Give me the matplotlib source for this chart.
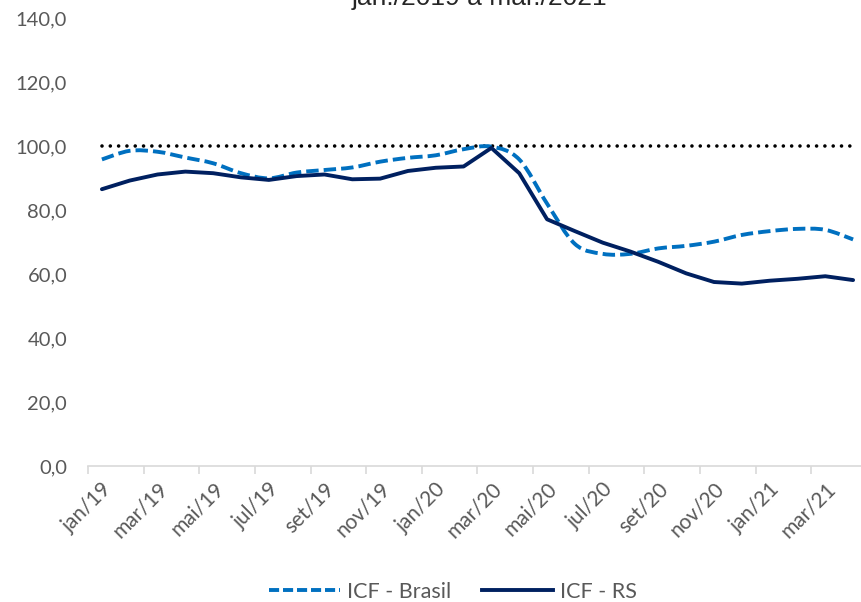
import matplotlib
matplotlib.use("Agg")
import matplotlib.pyplot as plt
from matplotlib.path import Path
from matplotlib.patches import PathPatch
from matplotlib.lines import Line2D
import numpy as np

# Monthly categories, jan/19 .. abr/21
months = ["jan/19", "fev/19", "mar/19", "abr/19", "mai/19", "jun/19", "jul/19",
          "ago/19", "set/19", "out/19", "nov/19", "dez/19", "jan/20", "fev/20",
          "mar/20", "abr/20", "mai/20", "jun/20", "jul/20", "ago/20", "set/20",
          "out/20", "nov/20", "dez/20", "jan/21", "fev/21", "mar/21", "abr/21"]

icf_brasil = [95.8, 98.5, 98.2, 96.4, 94.6, 91.5, 89.9, 91.7, 92.5, 93.3, 95.1,
              96.3, 97.1, 99.0, 99.8, 95.8, 82.0, 69.4, 66.3, 66.3, 68.0, 68.8,
              70.1, 72.2, 73.4, 74.1, 73.8, 70.8]

icf_rs = [86.5, 89.2, 91.1, 92.0, 91.5, 90.2, 89.4, 90.6, 91.1, 89.6, 89.8,
          92.2, 93.2, 93.6, 99.4, 91.5, 77.1, 73.4, 69.8, 67.0, 63.8, 60.2,
          57.5, 57.0, 57.9, 58.5, 59.3, 58.1]

reference = [100.0] * len(months)

y_ticks = [0, 20, 40, 60, 80, 100, 120, 140]
title_text = "jan./2019 a mar./2021"

COL_BR = "#0070C0"
COL_RS = "#002060"
GRAY = "#595959"
FONT = "Lato"


def smooth_path(xs, ys):
    """Bezier path through the points, using neighbour-based control points."""
    pts = np.column_stack([xs, ys]).astype(float)
    n = len(pts)
    verts = [pts[0]]
    codes = [Path.MOVETO]
    for i in range(n - 1):
        p0 = pts[i - 1] if i > 0 else pts[i]
        p1 = pts[i]
        p2 = pts[i + 1]
        p3 = pts[i + 2] if i + 2 < n else pts[i + 1]
        c1 = p1 + (p2 - p0) / 6.0
        c2 = p2 - (p3 - p1) / 6.0
        verts += [c1, c2, p2]
        codes += [Path.CURVE4] * 3
    return Path(verts, codes)


fig = plt.figure(figsize=(8.62, 6.02), dpi=100)
ax = fig.add_axes([88 / 862, 136 / 602, 779 / 862, 448 / 602])

x = np.arange(len(months))

# reference level
ax.plot(x, reference, color="black", lw=2.6, linestyle=(0, (0.001, 2.3)),
        dash_capstyle="round", zorder=2)

# Brasil series, smoothed
ax.add_patch(PathPatch(smooth_path(x, icf_brasil), fill=False, edgecolor=COL_BR,
                       lw=2.8, linestyle=(0, (3.2, 1.3)), zorder=3))

# RS series
ax.plot(x, icf_rs, color=COL_RS, lw=2.8, solid_joinstyle="round",
        solid_capstyle="round", zorder=4)

ax.set_xlim(-0.5, len(months) - 0.5)
ax.set_ylim(0, 140)

ax.set_yticks(y_ticks)
ax.set_yticklabels([f"{v:.1f}".replace(".", ",") for v in y_ticks],
                   fontsize=14.5, color=GRAY, fontfamily=FONT)
ax.tick_params(axis="y", length=0, pad=15)

# tick marks at category boundaries, labels at every other category
ax.set_xticks(np.arange(-0.5, len(months) - 0.5, 2))
ax.set_xticklabels([])
ax.tick_params(axis="x", which="major", length=6, color="#D9D9D9", width=1.2)
ax.set_xticks(x[::2], minor=True)
ax.set_xticklabels(months[::2], minor=True, rotation=45, ha="right", va="top",
                   rotation_mode="anchor", fontsize=15, color=GRAY, fontfamily=FONT)
ax.tick_params(axis="x", which="minor", length=0, pad=9)

for s in ["top", "right", "left"]:
    ax.spines[s].set_visible(False)
ax.spines["bottom"].set_color("#D9D9D9")
ax.spines["bottom"].set_linewidth(1.2)
ax.spines["bottom"].set_zorder(1)

fig.text(480 / 862, 1 - 5 / 602, title_text, ha="center", va="baseline",
         fontsize=19, color="#262626", fontfamily="Liberation Sans")

handles = [
    Line2D([], [], color=COL_BR, lw=2.8, linestyle=(0, (2.6, 1.0))),
    Line2D([], [], color=COL_RS, lw=2.8),
]
fig.legend(handles, ["ICF - Brasil", "ICF - RS"], loc="center",
           bbox_to_anchor=(453 / 862, 1 - 592 / 602), ncol=2, frameon=False,
           prop={"family": FONT, "size": 15.5}, labelcolor=GRAY,
           handlelength=3.3, columnspacing=1.4, handletextpad=0.35,
           borderpad=0.0)

fig.savefig("out.png", dpi=100)
